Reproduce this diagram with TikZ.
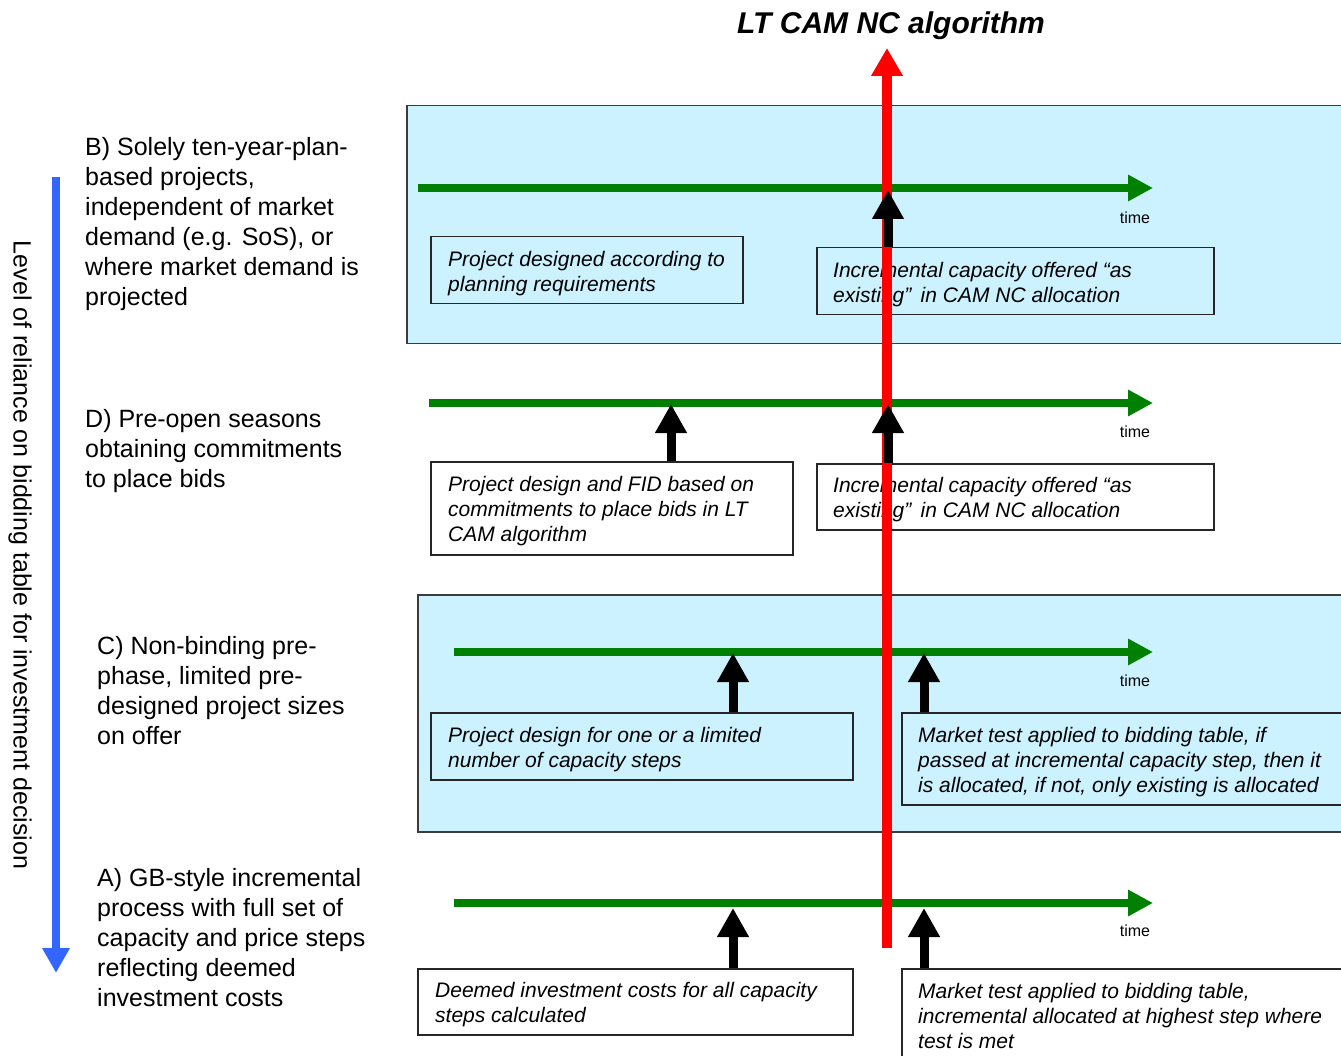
\documentclass[tikz,border=0pt]{standalone}
\usepackage{fontspec}
\setmainfont{Liberation Sans}
\usetikzlibrary{arrows.meta}
\definecolor{panelcyan}{RGB}{204,242,255}
\definecolor{tgreen}{RGB}{0,128,0}
\definecolor{tblue}{RGB}{51,102,255}
\definecolor{tred}{RGB}{255,0,0}
\definecolor{bordergray}{RGB}{60,60,60}
\tikzset{
  panel/.style={draw=bordergray, line width=1.5pt, fill=panelcyan, rectangle, inner sep=0pt, anchor=north west},
  infobox/.style={draw=black!85, line width=1.5pt, rectangle, inner sep=0pt, anchor=north west},
  boxtxt/.style={anchor=west, align=left, inner sep=0pt, yshift=-3pt, font=\fontsize{21}{25}\selectfont\itshape},
  sidelabel/.style={anchor=north west, align=left, inner sep=0pt, font=\fontsize{25}{30}\selectfont},
  timelbl/.style={inner sep=0pt, font=\fontsize{16}{18}\selectfont},
  timeline/.style={draw=tgreen, line width=8pt, -{Triangle[length=25pt,width=25pt]}},
  uparrow/.style={draw=black, line width=9pt, -{Triangle[length=29pt,width=30pt]}},
  algoarrow/.style={draw=tred, line width=10pt, -{Triangle[length=28pt,width=30pt]}},
  reliancearrow/.style={draw=tblue, line width=8.5pt, -{Triangle[length=25pt,width=26pt]}}
}
\begin{document}
\begin{tikzpicture}[x=1pt,y=-1pt]
\useasboundingbox (0,0) rectangle (1341,1056);

% panels
\node[panel, minimum width=950pt, minimum height=238pt] (panelB) at (406,105) {};
\node[panel, minimum width=940pt, minimum height=237pt] (panelC) at (417,594) {};

% title
\node[inner sep=0pt, font=\fontsize{30}{33}\selectfont\bfseries\itshape] (title) at (891,26) {LT CAM NC algorithm};

% left labels
\node[sidelabel] (labB) at (85,137) {B) Solely ten-year-plan-\\based projects,\\independent of market\\demand (e.g. SoS), or\\where market demand is\\projected};
\node[sidelabel] (labD) at (85,409) {D) Pre-open seasons\\obtaining commitments\\to place bids};
\node[sidelabel] (labC) at (97,636) {C) Non-binding pre-\\phase, limited pre-\\designed project sizes\\on offer};
\node[sidelabel] (labA) at (97,868) {A) GB-style incremental\\process with full set of\\capacity and price steps\\reflecting deemed\\investment costs};

% vertical label and blue arrow
\node[inner sep=0pt, rotate=-90, font=\fontsize{25}{28}\selectfont] (reliance) at (20,555) {Level of reliance on bidding table for investment decision};
\coordinate (blueS) at (56,177);
\coordinate (blueE) at (56,973);
\draw[reliancearrow] (blueS) -- (blueE);

% time lines
\coordinate (gB0) at (418,188); \coordinate (gB1) at (1153,188);
\coordinate (gD0) at (429,403); \coordinate (gD1) at (1153,403);
\coordinate (gC0) at (454,652); \coordinate (gC1) at (1153,652);
\coordinate (gA0) at (454,903); \coordinate (gA1) at (1153,903);
\draw[timeline] (gB0) -- (gB1);
\draw[timeline] (gD0) -- (gD1);
\draw[timeline] (gC0) -- (gC1);
\draw[timeline] (gA0) -- (gA1);
\node[timelbl] (tB) at (1135,218) {time};
\node[timelbl] (tD) at (1135,432) {time};
\node[timelbl] (tC) at (1135,681) {time};
\node[timelbl] (tA) at (1135,931) {time};

% boxes
\node[infobox, minimum width=312pt, minimum height=67pt] (b1) at (430,236) {};
\node[boxtxt] (b1t) at ([xshift=18pt]b1.west) {Project designed according to\\planning requirements};
\node[infobox, minimum width=397pt, minimum height=67pt] (b2) at (816,247) {};
\node[boxtxt] (b2t) at ([xshift=17pt]b2.west) {Incremental capacity offered “as\\existing”\, in CAM NC allocation};

\node[infobox, minimum width=362pt, minimum height=93pt] (d1) at (430,461) {};
\node[boxtxt] (d1t) at ([xshift=18pt]d1.west) {Project design and FID based on\\commitments to place bids in LT\\CAM algorithm};
\node[infobox, minimum width=397pt, minimum height=66pt] (d2) at (816,463) {};
\node[boxtxt] (d2t) at ([xshift=17pt]d2.west) {Incremental capacity offered “as\\existing”\, in CAM NC allocation};

\node[infobox, minimum width=422pt, minimum height=67pt] (c1) at (430,712) {};
\node[boxtxt] (c1t) at ([xshift=18pt]c1.west) {Project design for one or a limited\\number of capacity steps};
\node[infobox, minimum width=450pt, minimum height=92pt] (c2) at (901,712) {};
\node[boxtxt] (c2t) at ([xshift=17pt]c2.west) {Market test applied to bidding table, if\\passed at incremental capacity step, then it\\is allocated, if not, only existing is allocated};

\node[infobox, minimum width=435pt, minimum height=66pt] (a1) at (417,968) {};
\node[boxtxt] (a1t) at ([xshift=18pt]a1.west) {Deemed investment costs for all capacity\\steps calculated};
\node[infobox, minimum width=450pt, minimum height=98pt] (a2) at (901,968) {};
\node[boxtxt, anchor=north west, yshift=0pt] (a2t) at (918,980) {Market test applied to bidding table,\\incremental allocated at highest step where\\test is met};

% red algorithm arrow
\coordinate (redS) at (887,948);
\coordinate (redE) at (887,48);
\draw[algoarrow] (redS) -- (redE);

% black arrows
\coordinate (kB) at (888,190);
\coordinate (kD1) at (671,404);
\coordinate (kD2) at (888,404);
\coordinate (kC1) at (733,653);
\coordinate (kC2) at (924,653);
\coordinate (kA1) at (733,908);
\coordinate (kA2) at (924,908);
\draw[uparrow] (b2.north -| kB) -- (kB);
\draw[uparrow] (d1.north -| kD1) -- (kD1);
\draw[uparrow] (d2.north -| kD2) -- (kD2);
\draw[uparrow] (c1.north -| kC1) -- (kC1);
\draw[uparrow] (c2.north -| kC2) -- (kC2);
\draw[uparrow] (a1.north -| kA1) -- (kA1);
\draw[uparrow] (a2.north -| kA2) -- (kA2);
\end{tikzpicture}
\end{document}
